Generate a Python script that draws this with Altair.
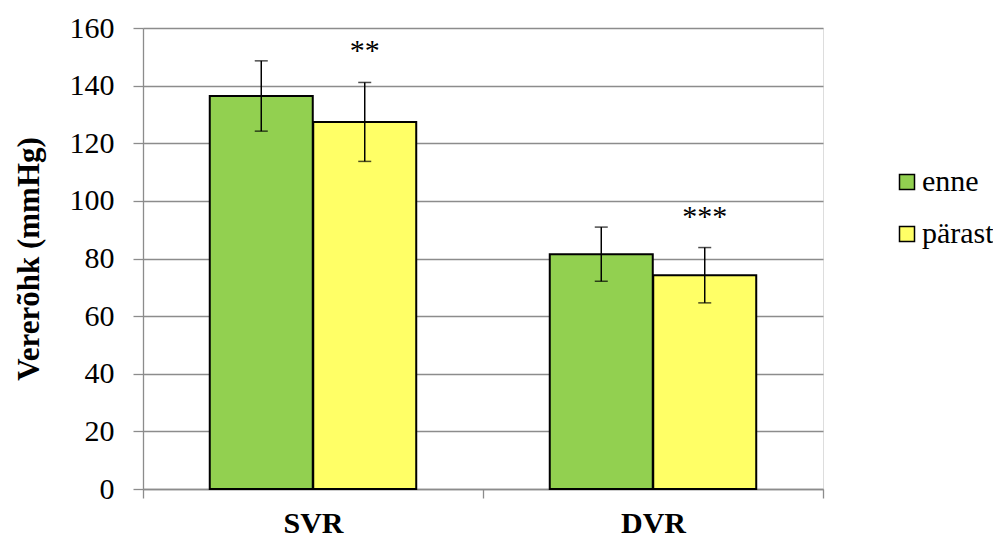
import altair as alt
import pandas as pd

categories = ["SVR", "SVR", "DVR", "DVR"]
groups = ["enne", "pärast", "enne", "pärast"]
means = [136.4, 127.4, 81.5, 74.2]
errors = [12.2, 13.7, 9.4, 9.6]
stars = ["", "**", "", "***"]

df = pd.DataFrame({"cat": categories, "grp": groups, "mean": means, "err": errors, "star": stars})
df["lo"] = df["mean"] - df["err"]
df["hi"] = df["mean"] + df["err"]

FONT = "Liberation Serif"
W, H = 680, 461
GRAY = "#8c8c8c"

x = alt.X("cat:N", sort=["SVR", "DVR"],
          scale=alt.Scale(paddingInner=0, paddingOuter=0),
          axis=alt.Axis(title=None, tickBand="extent", labelFont=FONT, labelFontSize=30,
                        labelFontWeight="bold", labelColor="black", labelPadding=10,
                        domainColor=GRAY, domainWidth=1.3, tickColor=GRAY, tickWidth=1.3,
                        tickSize=9, grid=False, labelAngle=0))
xo = alt.XOffset("grp:N", sort=["enne", "pärast"],
                 scale=alt.Scale(paddingInner=0, paddingOuter=0.643))
y_scale = alt.Scale(domain=[0, 160])

base = alt.Chart(df)

bars = base.mark_bar(stroke="black", strokeWidth=2, size=103).encode(
    x=x, xOffset=xo,
    y=alt.Y("mean:Q", scale=y_scale,
            axis=alt.Axis(title="Vererõhk (mmHg)", values=list(range(0, 161, 20)),
                          titleFont=FONT, titleFontSize=31, titleFontWeight="bold",
                          titleColor="black", titlePadding=24,
                          labelFont=FONT, labelFontSize=30, labelColor="black", labelPadding=19,
                          domainColor=GRAY, domainWidth=1.3, tickColor=GRAY, tickWidth=1.3,
                          tickSize=10, gridColor=GRAY, gridWidth=1.3)),
    color=alt.Color("grp:N", sort=["enne", "pärast"],
                    scale=alt.Scale(domain=["enne", "pärast"], range=["#92D050", "#FFFF66"]),
                    legend=alt.Legend(title=None, orient="none", legendX=749, legendY=139,
                                      padding=0, symbolType="square", symbolSize=225,
                                      symbolStrokeColor="black", symbolStrokeWidth=1.5,
                                      labelFont=FONT, labelFontSize=30, labelColor="black",
                                      rowPadding=22, labelOffset=0)),
)

rules = base.mark_rule(color="black", strokeWidth=1.5).encode(
    x=x, xOffset=xo, y=alt.Y("lo:Q", scale=y_scale), y2="hi:Q")

caps_hi = base.mark_tick(color="black", thickness=1.5, size=13, orient="horizontal").encode(
    x=x, xOffset=xo, y=alt.Y("hi:Q", scale=y_scale))
caps_lo = base.mark_tick(color="black", thickness=1.5, size=13, orient="horizontal").encode(
    x=x, xOffset=xo, y=alt.Y("lo:Q", scale=y_scale))

text = base.mark_text(font=FONT, fontSize=30, color="black", baseline="alphabetic", dy=-22).encode(
    x=x, xOffset=xo, y=alt.Y("hi:Q", scale=y_scale), text="star:N")

chart = alt.layer(bars, rules, caps_hi, caps_lo, text).properties(
    width=W, height=H,
    autosize=alt.AutoSizeParams(type="none"),
    padding={"left": 135, "top": 20, "right": 170, "bottom": 49},
).configure_view(stroke=None).configure(background="white")

chart.save("out.html", embed_options={"renderer": "svg", "actions": False})
